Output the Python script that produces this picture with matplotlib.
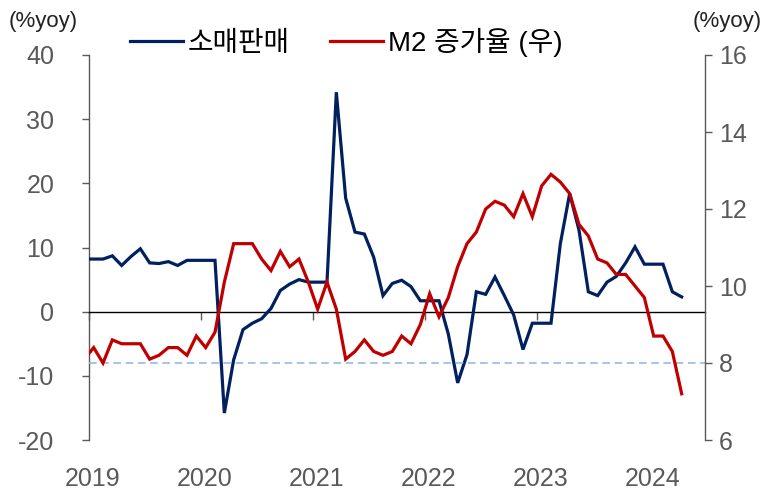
import matplotlib
matplotlib.use("Agg")

import matplotlib.pyplot as plt
import matplotlib.transforms as mtransforms
import numpy as np
import pandas as pd


OUT_FILE = "out.png"

# monthly data, Dec 2018 - Apr 2024 (Jan/Feb filled with previous value)
MONTHS = pd.date_range("2018-12-01", "2024-04-01", freq="MS")

RETAIL_SALES = [
    8.2,
    8.2, 8.2, 8.7, 7.2, 8.6, 9.8, 7.6, 7.5, 7.8, 7.2, 8.0, 8.0,
    8.0, 8.0, -15.8, -7.5, -2.8, -1.8, -1.1, 0.5, 3.3, 4.3, 5.0, 4.6,
    4.6, 4.6, 34.2, 17.7, 12.4, 12.1, 8.5, 2.5, 4.4, 4.9, 3.9, 1.7,
    1.7, 1.7, -3.5, -11.1, -6.7, 3.1, 2.7, 5.4, 2.5, -0.5, -5.9, -1.8,
    -1.8, -1.8, 10.6, 18.4, 12.7, 3.1, 2.5, 4.6, 5.5, 7.6, 10.1, 7.4,
    7.4, 7.4, 3.1, 2.3,
]

M2_GROWTH = [
    8.1,
    8.4, 8.0, 8.6, 8.5, 8.5, 8.5, 8.1, 8.2, 8.4, 8.4, 8.2, 8.7,
    8.4, 8.8, 10.1, 11.1, 11.1, 11.1, 10.7, 10.4, 10.9, 10.5, 10.7, 10.1,
    9.4, 10.1, 9.4, 8.1, 8.3, 8.6, 8.3, 8.2, 8.3, 8.7, 8.5, 9.0,
    9.8, 9.2, 9.7, 10.5, 11.1, 11.4, 12.0, 12.2, 12.1, 11.8, 12.4, 11.8,
    12.6, 12.9, 12.7, 12.4, 11.6, 11.3, 10.7, 10.6, 10.3, 10.3, 10.0, 9.7,
    8.7, 8.7, 8.3, 7.2,
]

M2_REFERENCE = 8.0

YEARS = [2019, 2020, 2021, 2022, 2023, 2024]
LEFT_TICKS = [-20, -10, 0, 10, 20, 30, 40]
RIGHT_TICKS = [6, 8, 10, 12, 14, 16]

LABEL_RETAIL = "소매판매"
LABEL_M2 = "M2 증가율 (우)"
UNIT_LABEL = "(%yoy)"

NAVY = "#002060"
RED = "#C00000"
DASH_BLUE = "#8DB4E2"
GRAY = "#595959"


def main():
    plt.rcParams["font.family"] = ["Liberation Sans", "Noto Sans CJK KR"]
    plt.rcParams["axes.unicode_minus"] = False

    # month mid-points as decimal years
    x = MONTHS.year + (MONTHS.month - 0.5) / 12.0

    fig = plt.figure(figsize=(7.65, 4.95), dpi=100)
    ax = fig.add_axes([89 / 765, 55 / 495, 616 / 765, 385 / 495])
    ax2 = ax.twinx()

    ax.plot(x, RETAIL_SALES, color=NAVY, linewidth=2.3, zorder=3,
            solid_joinstyle="miter", label=LABEL_RETAIL)
    ax2.axhline(M2_REFERENCE, color=DASH_BLUE, linewidth=1.1,
                dashes=(5, 3), zorder=1)
    ax2.plot(x, M2_GROWTH, color=RED, linewidth=2.3, zorder=3,
             solid_joinstyle="miter", label=LABEL_M2)

    ax.set_xlim(2019, 2024.5)
    ax.set_ylim(-20, 40)
    ax2.set_ylim(6, 16)

    ax.set_yticks(LEFT_TICKS)
    ax2.set_yticks(RIGHT_TICKS)

    # x axis sits on the zero line, year ticks hang below it
    ax.spines["bottom"].set_position(("data", 0))
    ax.spines["bottom"].set_color("black")
    ax.spines["bottom"].set_linewidth(1.0)
    ax.spines["top"].set_visible(False)
    ax.spines["right"].set_visible(False)
    ax.spines["left"].set_color(GRAY)
    ax.spines["left"].set_linewidth(1.0)
    for side in ["top", "bottom", "left"]:
        ax2.spines[side].set_visible(False)
    ax2.spines["right"].set_color(GRAY)
    ax2.spines["right"].set_linewidth(1.0)

    ax.set_xticks(YEARS)
    ax.set_xticklabels([])
    ax.tick_params(axis="x", direction="out", length=6, width=1.0,
                   color=GRAY)
    ax.tick_params(axis="y", direction="out", length=5, width=1.0,
                   color=GRAY, labelcolor=GRAY, labelsize=18, pad=20)
    ax2.tick_params(axis="y", direction="out", length=5, width=1.0,
                    color=GRAY, labelcolor=GRAY, labelsize=18, pad=5)

    trans = mtransforms.blended_transform_factory(ax.transData, ax.transAxes)
    for year in YEARS:
        ax.text(year + 0.03, -0.101, str(year), transform=trans,
                ha="center", va="center", fontsize=18, color=GRAY)

    fig.text(9 / 765, 1 - 22 / 495, UNIT_LABEL, ha="left", va="center",
             fontsize=16, color="#222222")
    fig.text(762 / 765, 1 - 22 / 495, UNIT_LABEL, ha="right", va="center",
             fontsize=16, color="#222222")

    lines = ax.get_lines() + [ax2.get_lines()[-1]]
    ax2.legend(lines, [LABEL_RETAIL, LABEL_M2], loc="center left",
               bbox_to_anchor=(130 / 765, 1 - 42 / 495),
               bbox_transform=fig.transFigure, ncol=2, frameon=False,
               fontsize=20, handlelength=1.9, handletextpad=0.18,
               columnspacing=1.45, borderpad=0, borderaxespad=0)

    fig.savefig(OUT_FILE, dpi=100)
    plt.close(fig)


if __name__ == "__main__":
    main()
